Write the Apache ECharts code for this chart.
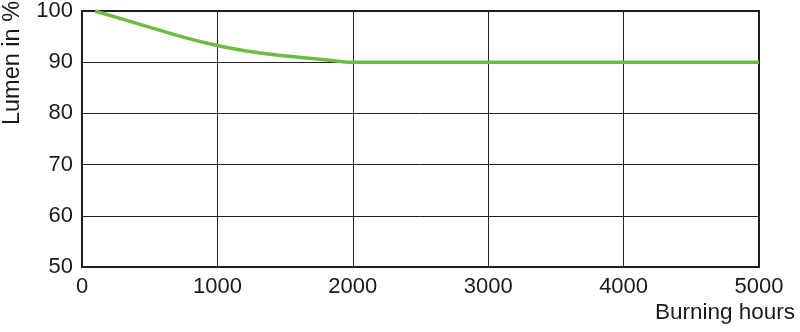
<!DOCTYPE html>
<html>
<head>
<meta charset="utf-8">
<script src="https://cdn.jsdelivr.net/npm/echarts@6/dist/echarts.min.js"></script>
<style>
html,body{margin:0;padding:0;background:#fff;}
#chart{width:800px;height:332px;}
</style>
</head>
<body>
<div id="chart"></div>
<script>
const hours = [96, 268, 515, 761, 1007, 1191, 1438, 1684, 1930, 2000, 2200, 3000, 4000, 5000];
const lumen = [100, 98.65, 96.7, 94.8, 93.2, 92.3, 91.4, 90.75, 90.1, 90, 90, 90, 90, 90];
const xTicks = [0, 1000, 2000, 3000, 4000, 5000];
const yTicks = [50, 60, 70, 80, 90, 100];
const xTitle = 'Burning hours';
const yTitle = 'Lumen in %';

const chart = echarts.init(document.getElementById('chart'), null, {renderer: 'canvas'});
const font = 'Liberation Sans, Arial, sans-serif';
chart.setOption({
  animation: false,
  grid: {left: 82, right: 41, top: 8, bottom: 65, show: true, borderColor: '#1a1a1a', borderWidth: 2, backgroundColor: 'transparent'},
  xAxis: {
    type: 'value', min: xTicks[0], max: xTicks[xTicks.length - 1], interval: 1000,
    axisLine: {show: false}, axisTick: {show: false},
    axisLabel: {color: '#1a1a1a', fontSize: 22, fontFamily: font, margin: 9, formatter: v => String(v)},
    splitLine: {show: true, lineStyle: {color: '#222', width: 1}}
  },
  yAxis: {
    type: 'value', min: yTicks[0], max: yTicks[yTicks.length - 1], interval: 10,
    axisLine: {show: false}, axisTick: {show: false},
    axisLabel: {color: '#1a1a1a', fontSize: 22, fontFamily: font, margin: 9, formatter: v => String(v)},
    splitLine: {show: true, lineStyle: {color: '#222', width: 1}}
  },
  graphic: [
    {type: 'text', left: 'auto', right: 5, top: 301, style: {text: xTitle, fill: '#1a1a1a', font: '22.5px ' + font, textAlign: 'right'}},
    {type: 'text', x: 13, y: 63, rotation: Math.PI / 2, style: {text: yTitle, fill: '#1a1a1a', font: '23.5px ' + font, textAlign: 'center', textVerticalAlign: 'middle'}}
  ],
  series: [{
    type: 'line', data: hours.map((h, i) => [h, lumen[i]]),
    showSymbol: false, smooth: 0.25,
    lineStyle: {color: '#6abd42', width: 3.5}
  }]
});
</script>
</body>
</html>
